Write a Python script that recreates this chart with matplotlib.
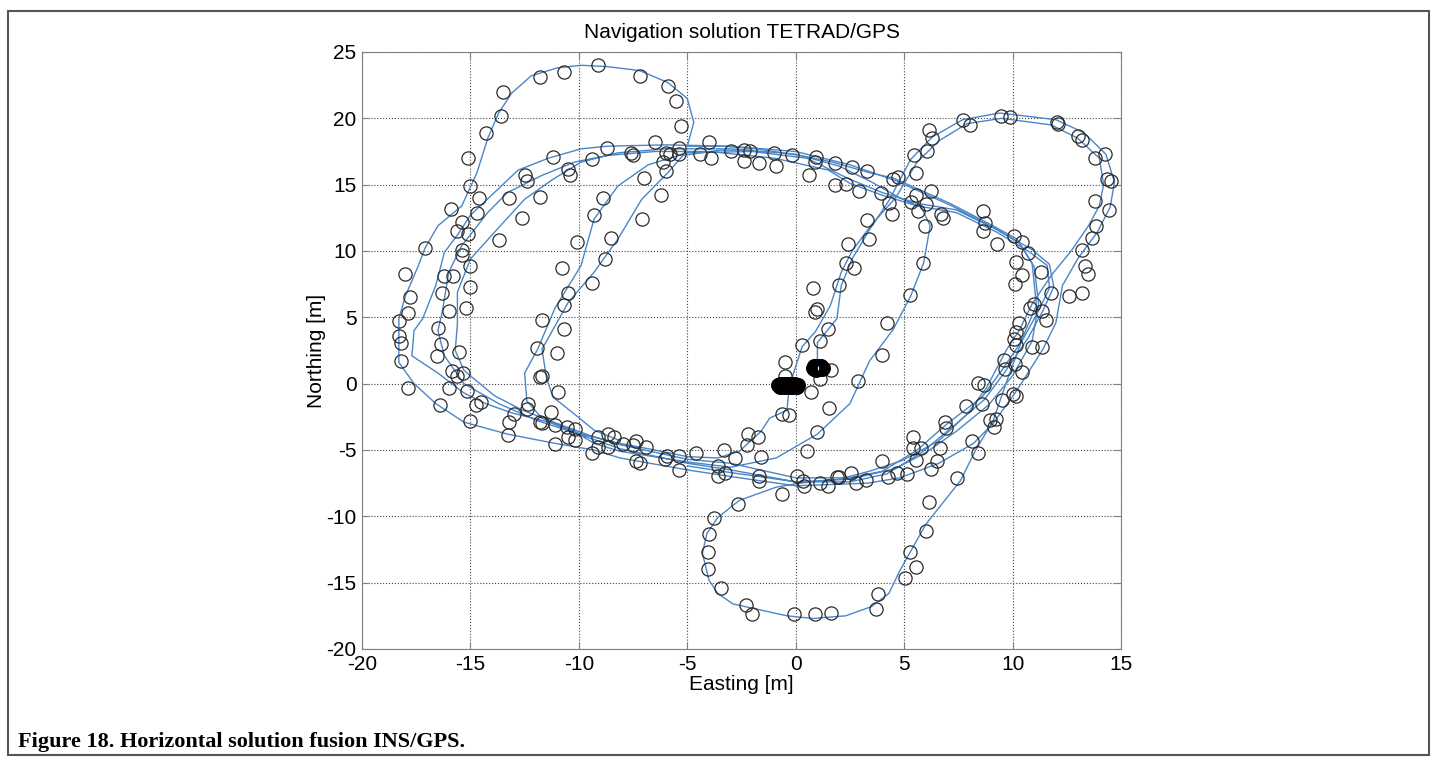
import numpy as np
import matplotlib.pyplot as plt
from matplotlib.patches import Rectangle

# fused INS/GPS trajectory, waypoints (easting, northing) [m]
lap_1 = [(1.0, 1.2), (1.0, 3.1), (1.9, 4.9), (2.1, 7.4), (2.6, 9.4), (3.4, 11.6), (4.3, 13.8),
         (5.3, 16.9), (6.3, 18.6), (7.7, 19.9), (9.4, 20.4), (12.0, 19.9), (13.3, 18.9),
         (14.3, 17.3), (14.7, 15.2), (14.5, 13.3), (13.9, 11.4), (13.0, 9.4), (12.3, 7.4),
         (12.0, 4.6), (11.4, 2.6), (10.2, -0.5), (9.1, -3.0), (8.2, -4.5), (6.6, -6.0),
         (4.8, -7.1), (3.3, -7.5), (0.0, -7.7), (-3.0, -7.0), (-5.0, -6.5), (-8.1, -5.6),
         (-9.3, -5.0), (-11.1, -4.5), (-13.3, -3.8), (-15.3, -2.9), (-16.6, -1.5), (-17.6, 0.0),
         (-18.3, 1.6), (-18.3, 2.6), (-18.3, 4.9), (-18.0, 6.6), (-17.4, 8.9), (-17.1, 10.2),
         (-16.5, 11.9), (-15.4, 13.4), (-14.7, 15.9), (-14.2, 18.5), (-13.7, 20.4), (-13.1, 21.9),
         (-12.2, 23.2), (-11.0, 23.8), (-9.9, 24.0), (-8.7, 23.9), (-7.2, 23.6), (-5.9, 22.7),
         (-5.0, 21.5), (-4.7, 19.7), (-5.0, 17.9), (-3.4, 17.9), (-1.8, 17.7), (0.2, 17.2),
         (1.7, 16.7), (3.4, 15.9), (4.5, 15.5), (7.1, 13.6), (9.1, 11.9), (10.2, 10.9),
         (10.9, 9.1), (11.1, 5.9), (10.6, 4.0), (9.8, 0.5), (9.1, -2.8), (8.3, -5.0), (7.6, -7.3),
         (6.0, -10.6), (4.8, -14.1), (4.3, -15.8), (3.5, -16.8), (2.3, -17.5), (0.8, -17.7),
         (-0.4, -17.5), (-2.9, -16.6), (-3.6, -15.8), (-4.0, -14.8), (-4.3, -12.8), (-4.1, -11.3),
         (-3.6, -10.1), (-2.6, -8.8), (-0.9, -7.8), (0.2, -7.5), (2.0, -7.2), (3.4, -6.6),
         (4.9, -5.8), (6.6, -4.3), (7.9, -2.3), (8.8, -0.3), (9.7, 2.5), (10.3, 4.0), (10.9, 6.0),
         (11.8, 8.2), (12.7, 10.0), (13.5, 11.9), (14.0, 13.4), (14.2, 15.0), (14.0, 17.0),
         (13.0, 18.5), (11.8, 19.5), (9.5, 20.0), (7.9, 19.6), (6.6, 18.3), (5.6, 16.7),
         (4.6, 14.0), (3.5, 12.0), (2.6, 10.0), (2.1, 8.4), (1.6, 5.9), (0.9, 3.9), (0.3, 2.8),
         (0.0, 1.3), (-0.3, -0.2)]

lap_2 = [(-0.3, -0.2), (-0.4, -2.0), (-1.2, -2.6), (-1.6, -3.6), (-2.6, -5.1), (-3.6, -5.6),
         (-5.0, -5.5), (-6.5, -5.0), (-8.1, -4.5), (-9.9, -3.8), (-11.4, -2.9), (-13.1, -2.2),
         (-14.3, -1.5), (-15.3, -0.7), (-16.5, 0.8), (-17.7, 2.1), (-17.6, 4.0), (-17.2, 4.9),
         (-16.6, 7.4), (-16.2, 9.9), (-15.6, 11.2), (-15.0, 12.7), (-13.9, 14.4), (-12.8, 16.1),
         (-11.4, 17.0), (-9.9, 17.7), (-8.7, 17.9), (-6.0, 18.0), (-3.0, 17.9), (0.0, 17.5),
         (2.5, 16.5), (4.6, 15.3), (7.2, 13.4), (9.2, 11.7), (10.3, 10.6), (11.0, 8.8),
         (11.2, 6.0), (10.9, 3.2), (10.0, 0.6), (8.9, -1.6), (7.4, -3.6), (6.0, -5.2), (4.6, -6.4),
         (2.5, -7.2), (0.0, -7.4), (-3.0, -6.5), (-5.0, -6.0), (-8.1, -4.9), (-10.2, -3.7),
         (-11.9, -2.8), (-13.7, -1.5), (-15.3, 0.0), (-16.2, 2.1), (-16.5, 4.0), (-16.3, 5.4),
         (-16.0, 8.4), (-15.4, 10.4), (-14.2, 12.9), (-13.3, 14.4), (-11.7, 15.7), (-10.2, 16.7),
         (-8.7, 17.2), (-6.5, 17.5), (-4.0, 17.5), (-1.0, 17.0), (1.5, 16.1), (2.5, 15.1),
         (4.0, 14.2), (5.6, 13.4), (7.4, 12.9), (9.3, 11.4), (10.8, 9.9), (11.6, 8.9), (11.7, 7.2),
         (11.2, 5.5), (10.5, 3.4), (9.5, 1.0), (8.6, -1.0), (7.0, -3.0), (5.6, -5.0), (4.0, -6.6),
         (2.5, -7.1), (0.0, -7.1), (-3.0, -6.0), (-5.0, -5.7), (-8.1, -4.6), (-9.5, -3.9),
         (-11.0, -3.0), (-12.6, -2.0), (-13.9, -0.9), (-15.3, 1.0), (-15.7, 2.5), (-15.6, 4.5),
         (-15.6, 6.9), (-15.0, 9.4), (-13.9, 11.4), (-12.5, 13.9), (-11.2, 15.4), (-9.9, 16.7),
         (-8.2, 17.4), (-6.0, 17.7), (-3.0, 17.7), (0.0, 17.3), (2.0, 16.4), (3.5, 15.2),
         (4.8, 14.0), (5.8, 13.3), (6.2, 11.9), (5.9, 9.1), (5.3, 6.6), (4.5, 4.1), (3.4, 1.7),
         (2.5, -1.5), (1.0, -3.8), (-0.9, -5.6), (-3.0, -6.3), (-5.0, -5.9), (-8.1, -5.1),
         (-9.3, -4.5), (-10.3, -3.5), (-11.7, -2.6), (-12.4, -1.3), (-12.5, 0.8), (-11.9, 2.6),
         (-11.1, 5.7), (-9.9, 8.9), (-9.3, 12.4), (-8.2, 14.9), (-6.8, 16.5), (-5.0, 17.4),
         (-2.0, 17.5), (0.5, 17.0), (2.5, 15.4), (4.0, 14.4), (5.6, 13.6), (7.4, 13.1), (9.3, 11.6),
         (10.9, 10.1), (11.7, 9.0), (11.9, 7.3), (11.4, 5.5), (10.7, 3.4), (9.7, 1.0), (8.7, -1.2),
         (7.2, -3.3), (5.8, -5.2), (4.2, -6.8), (2.5, -7.4), (0.0, -7.4), (-3.0, -6.7),
         (-5.0, -6.2)]

lap_3 = [(-8.1, -4.3), (-9.3, -3.5), (-10.2, -2.3), (-11.2, -1.0), (-11.5, 0.5), (-11.7, 2.6),
         (-10.5, 6.1), (-9.3, 8.4), (-8.2, 10.9), (-7.1, 13.9), (-5.9, 15.9), (-5.2, 17.2),
         (-3.5, 17.6), (-2.0, 17.6)]

# GPS fixes (easting, northing) [m]
gps_fixes = [
    (-9.1, 24.0), (-10.7, 23.5), (-11.8, 23.1), (-13.5, 22.0), (-13.6, 20.2), (-14.3, 18.9),
    (-15.1, 17.0), (-15.0, 14.9), (-14.6, 14.0), (-14.7, 12.9), (-15.9, 13.2), (-15.4, 12.2),
    (-15.6, 11.5), (-15.1, 11.3), (-17.1, 10.2), (-15.4, 10.1), (-15.4, 9.7), (-15.0, 8.9),
    (-18.0, 8.3), (-16.2, 8.1), (-15.8, 8.1), (-15.0, 7.3), (-17.8, 6.5), (-16.3, 6.8),
    (-15.2, 5.7), (-17.9, 5.3), (-16.0, 5.5), (-18.3, 4.7), (-18.3, 3.6), (-18.2, 3.1),
    (-16.5, 4.2), (-11.2, 17.1), (-12.5, 15.7), (-12.4, 15.3), (-13.2, 14.0), (-10.5, 16.2),
    (-10.4, 15.7), (-9.4, 16.9), (-8.7, 17.8), (-11.8, 14.1), (-12.6, 12.5), (-13.7, 10.8),
    (-8.9, 14.0), (-9.3, 12.7), (-10.1, 10.7), (-8.5, 11.0), (-8.8, 9.4), (-10.8, 8.7),
    (-9.4, 7.6), (-10.5, 6.8), (-10.7, 5.9), (-10.7, 4.1), (-11.7, 4.8),
    (-7.2, 23.2), (-5.9, 22.4), (-5.5, 21.3), (-5.3, 19.4), (-6.5, 18.2), (-7.6, 17.4),
    (-7.5, 17.2), (-6.0, 17.4), (-5.8, 17.3), (-5.4, 17.8), (-5.4, 17.3), (-6.1, 16.7),
    (-6.0, 16.0), (-7.0, 15.5), (-6.2, 14.2), (-7.1, 12.4), (-4.0, 18.2), (-4.4, 17.3),
    (-3.9, 17.0), (-3.0, 17.5), (-2.4, 17.6), (-2.1, 17.5), (-2.4, 16.8), (-1.7, 16.6),
    (-1.0, 17.4), (-0.15, 17.2), (-0.9, 16.4), (0.95, 17.1), (0.9, 16.7), (1.8, 16.6),
    (2.6, 16.3), (3.3, 16.0), (0.6, 15.7), (1.8, 15.0), (2.3, 15.05), (2.9, 14.5), (3.3, 12.3),
    (2.4, 10.5), (2.3, 9.1), (2.7, 8.7), (2.0, 7.4), (0.8, 7.2), (1.0, 5.6), (0.9, 5.4),
    (1.5, 4.1), (1.1, 3.2), (0.3, 2.9),
    (7.7, 19.9), (8.05, 19.5), (9.45, 20.2), (9.9, 20.1), (12.05, 19.7), (12.1, 19.6),
    (13.0, 18.7), (13.2, 18.4), (14.25, 17.3), (13.8, 17.0), (14.35, 15.4), (14.55, 15.3),
    (13.8, 13.8), (14.45, 13.1), (13.85, 11.9), (13.65, 10.95), (13.2, 10.1), (13.35, 8.9),
    (13.5, 8.3), (13.2, 6.8), (12.6, 6.6), (11.75, 6.8), (11.3, 8.4), (10.7, 9.85),
    (10.45, 10.7), (10.05, 11.1), (10.15, 9.2), (10.45, 8.2), (10.1, 7.5), (11.0, 6.0),
    (11.35, 5.45), (11.55, 4.8), (10.8, 5.7), (10.3, 4.6), (10.15, 3.9), (10.05, 3.4),
    (10.15, 2.9), (10.9, 2.75), (11.35, 2.75), (6.15, 19.1), (6.3, 18.55), (5.45, 17.2),
    (6.05, 17.5), (5.55, 15.85), (4.5, 15.45), (4.7, 15.55), (3.95, 14.4), (4.3, 13.65),
    (4.45, 12.8), (5.55, 14.2), (5.3, 13.7), (6.0, 13.55), (6.25, 14.5), (5.65, 13.05),
    (6.7, 12.8), (6.8, 12.45), (5.95, 11.85), (8.65, 13.05), (8.75, 12.1), (8.65, 11.5),
    (9.3, 10.5), (3.4, 10.9), (5.85, 9.1), (5.25, 6.7), (4.2, 4.6),
    (-18.2, 1.7), (-17.9, -0.3), (-16.35, 3.0), (-16.55, 2.1), (-15.55, 2.35), (-15.85, 0.95),
    (-15.35, 0.8), (-15.6, 0.6), (-16.0, -0.35), (-15.15, -0.55), (-16.4, -1.6), (-14.75, -1.6),
    (-14.5, -1.4), (-15.0, -2.85), (-13.0, -2.25), (-13.2, -2.9), (-13.25, -3.85),
    (-12.35, -1.55), (-12.4, -1.9), (-11.95, 2.7), (-11.0, 2.3), (-11.8, 0.5), (-11.7, 0.6),
    (-10.95, -0.65), (-11.3, -2.1), (-11.8, -2.9), (-11.7, -3.0), (-11.1, -3.15),
    (-10.55, -3.3), (-10.5, -4.0), (-10.2, -4.25), (-10.2, -3.4), (-11.1, -4.55),
    (-9.4, -5.25), (-9.1, -4.0), (-8.65, -3.8), (-8.4, -4.05), (-8.65, -4.8), (-9.1, -4.8),
    (-0.5, 1.6), (-0.5, 0.6), (1.65, 1.05), (1.1, 0.35), (0.7, -0.6), (-0.65, -2.25),
    (-0.3, -2.35), (1.55, -1.8), (2.85, 0.2), (1.0, -3.65), (0.5, -5.1), (-2.2, -3.8),
    (-1.75, -4.0), (-2.25, -4.65), (-3.3, -5.0), (-2.8, -5.6), (-1.6, -5.55), (-3.6, -6.2),
    (-3.25, -6.7), (-3.6, -6.95), (-4.6, -5.25), (-5.4, -5.45), (-5.4, -6.5), (-5.95, -5.45),
    (-6.05, -5.7), (-6.9, -4.8), (-7.35, -4.3), (-7.5, -4.65), (-7.35, -5.8), (-7.2, -5.95),
    (-7.95, -4.55), (-1.7, -6.95), (-1.7, -7.3), (0.05, -6.95), (0.35, -7.3), (0.4, -7.7),
    (1.1, -7.45), (1.5, -7.75), (1.9, -7.05), (2.0, -7.05), (2.55, -6.7), (2.8, -7.5),
    (3.25, -7.25), (-0.65, -8.3), (-2.65, -9.1), (-3.75, -10.1), (-4.0, -11.35),
    (-4.05, -12.7), (-4.05, -14.0), (-3.45, -15.4), (-2.3, -16.65), (-2.0, -17.35),
    (-0.1, -17.35), (0.9, -17.35), (1.65, -17.25),
    (9.6, 1.8), (9.65, 1.1), (10.1, 1.5), (10.45, 0.85), (8.4, 0.05), (8.7, -0.1),
    (9.5, -1.25), (10.0, -0.8), (10.15, -0.9), (7.85, -1.65), (8.6, -1.55), (8.95, -2.75),
    (9.25, -2.65), (9.15, -3.25), (6.9, -2.9), (6.95, -3.35), (8.15, -4.3), (8.4, -5.25),
    (6.65, -4.85), (5.8, -4.85), (5.4, -4.0), (5.4, -4.85), (5.55, -5.75), (6.5, -5.85),
    (6.25, -6.45), (4.0, -5.8), (5.15, -6.8), (4.65, -6.7), (4.25, -7.0), (7.45, -7.1),
    (6.15, -8.95), (6.0, -11.1), (5.25, -12.7), (5.55, -13.85), (5.05, -14.65),
    (3.8, -15.85), (3.7, -16.95), (4.0, 2.15),
]

# fixes logged while the vehicle stood still near the origin
stop_a = [(-0.80, -0.10), (-0.77, -0.20), (-0.74, -0.05), (-0.71, -0.25), (-0.68, -0.15),
          (-0.65, -0.05), (-0.62, -0.20), (-0.59, -0.10), (-0.56, -0.25), (-0.53, -0.15),
          (-0.50, -0.05), (-0.47, -0.20), (-0.44, -0.10), (-0.41, -0.25), (-0.38, -0.15),
          (-0.35, -0.05), (-0.32, -0.20), (-0.29, -0.10), (-0.26, -0.25), (-0.23, -0.15),
          (-0.20, -0.05), (-0.17, -0.20), (-0.14, -0.10), (-0.11, -0.25), (-0.08, -0.15),
          (-0.05, -0.05), (-0.02, -0.20), (0.01, -0.10), (0.04, -0.25), (0.07, -0.15),
          (0.10, -0.10)]
stop_b = [(0.80, 1.20), (0.83, 1.10), (0.86, 1.30), (0.89, 1.15), (0.92, 1.35), (0.95, 1.05),
          (0.98, 1.25), (1.01, 1.15), (1.04, 1.35), (1.07, 1.10), (1.10, 1.25), (1.13, 1.15),
          (1.16, 1.30), (1.19, 1.10), (1.22, 1.20), (1.25, 1.15)]

x_ticks = [-20, -15, -10, -5, 0, 5, 10, 15]
y_ticks = [-20, -15, -10, -5, 0, 5, 10, 15, 20, 25]

plt.rcParams['font.family'] = ['Liberation Sans', 'DejaVu Sans']
plt.rcParams['axes.unicode_minus'] = False

fig = plt.figure(figsize=(14.37, 7.62), dpi=100)
ax = fig.add_axes([362 / 1437, 113 / 762, 759 / 1437, 597 / 762])

line_col = '#4a86c8'
for lap in (lap_1, lap_2, lap_3):
    xy = np.array(lap)
    ax.plot(xy[:, 0], xy[:, 1], color=line_col, lw=1.0)

xy = np.array(gps_fixes)
ax.plot(xy[:, 0], xy[:, 1], 'o', mfc='none', mec='#2b2b2b', ms=9.5, mew=0.9)
# the stops pile up into near-solid black blobs
for pts in (stop_a, stop_b):
    xy = np.array(pts)
    ax.plot(xy[:, 0], xy[:, 1], 'o', mfc='none', mec='black', ms=9.5, mew=1.3)

ax.set_xlim(-20, 15)
ax.set_ylim(-20, 25)
ax.set_xticks(x_ticks)
ax.set_yticks(y_ticks)
ax.grid(True, linestyle=':', color='#444444', linewidth=0.8)
ax.tick_params(direction='in', top=True, right=True, length=5, color='#808080',
               labelsize=15, pad=4)
for s in ax.spines.values():
    s.set_color('#808080')
ax.set_title('Navigation solution TETRAD/GPS', fontsize=15, pad=10)
ax.set_xlabel('Easting [m]', fontsize=15, labelpad=1)
ax.set_ylabel('Northing [m]', fontsize=15, labelpad=0)

fig.patches.append(Rectangle((8 / 1437, 7 / 762), 1421 / 1437, 744 / 762,
                             transform=fig.transFigure, fill=False,
                             edgecolor='#555555', lw=1.5))
fig.text(18 / 1437, 15 / 762, 'Figure 18. Horizontal solution fusion INS/GPS.',
         family='Liberation Serif', weight='bold', fontsize=16, va='baseline')

fig.savefig('out.png', dpi=100)
